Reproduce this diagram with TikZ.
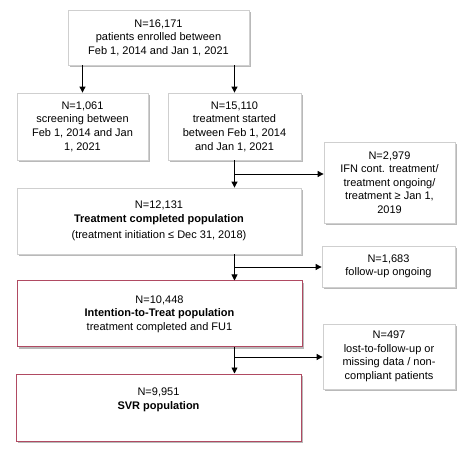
\documentclass[tikz,border=0pt]{standalone}
\usepackage{fontspec}
\setmainfont{Liberation Sans}
\usetikzlibrary{arrows.meta,shadows}
\definecolor{boxgray}{HTML}{CFCFCF}
\definecolor{boxred}{HTML}{B04A62}
\tikzset{
  box/.style={draw=boxgray, line width=0.8pt, fill=white, align=center,
    inner sep=0pt, font=\fontsize{11}{13.6}\selectfont,
    drop shadow={shadow xshift=2.2pt, shadow yshift=-2.2pt, fill=black!50, opacity=0.55}},
  redbox/.style={box, draw=boxred, line width=1pt},
  arr/.style={-{Triangle[width=6pt,length=6pt]}, line width=0.9pt, black}
}
\begin{document}
\begin{tikzpicture}[x=1pt,y=-1pt]
\useasboundingbox (0,0) rectangle (474,462);
\node[box, minimum width=181pt, minimum height=55pt] (top) at (158.5,37.5)
  {N=16,171\\patients enrolled between\\Feb 1, 2014 and Jan 1, 2021};
\node[box, minimum width=131pt, minimum height=67pt] (left) at (82.5,126.5)
  {N=1,061\\screening between\\Feb 1, 2014 and Jan\\1, 2021};
\node[box, minimum width=133pt, minimum height=67pt] (mid) at (234.5,126.5)
  {N=15,110\\treatment started\\between Feb 1, 2014\\and Jan 1, 2021};
\node[box, minimum width=131pt, minimum height=81pt] (ifn) at (389.5,182.5)
  {N=2,979\\IFN cont. treatment/\\treatment ongoing/\\treatment ≥ Jan 1,\\2019};
\node[box, minimum width=284pt, minimum height=66pt] (tc) at (159,221)
  {N=12,131\\\textbf{Treatment completed population}\\[3pt](treatment initiation ≤ Dec 31, 2018)};
\node[box, minimum width=133pt, minimum height=41pt] (fu) at (388.5,266.5)
  {N=1,683\\follow-up ongoing};
\node[redbox, minimum width=285pt, minimum height=66pt] (itt) at (159.5,314)
  {N=10,448\\\textbf{Intention-to-Treat population}\\treatment completed and FU1};
\node[box, minimum width=132pt, minimum height=65pt] (lost) at (389,356.5)
  {N=497\\lost-to-follow-up or\\missing data / non-\\compliant patients};
\node[redbox, minimum width=285pt, minimum height=67pt] (svr) at (158.5,407.5)
  {N=9,951\\\textbf{SVR population}\\[4pt]};
\draw[arr] (top.south -| left.north) -- (left.north);
\draw[arr] (top.south -| mid.north) -- (mid.north);
\draw[arr] (mid.south) -- (mid.south |- tc.north);
\draw[arr] (mid.south |- 0,174) coordinate (b1) -- (b1 -| ifn.west);
\draw[arr] (tc.south -| mid.south) -- (itt.north -| mid.south);
\draw[arr] (mid.south |- 0,267) coordinate (b2) -- (b2 -| fu.west);
\draw[arr] (itt.south -| mid.south) -- (svr.north -| mid.south);
\draw[arr] (mid.south |- 0,357) coordinate (b3) -- (b3 -| lost.west);
\end{tikzpicture}
\end{document}
